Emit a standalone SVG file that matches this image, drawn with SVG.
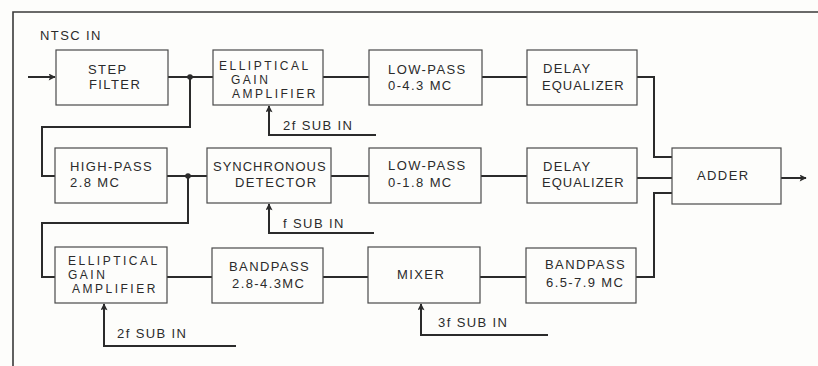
<svg xmlns="http://www.w3.org/2000/svg" width="818" height="366" viewBox="0 0 818 366">
<defs>
<marker id="arr" viewBox="0 0 10 10" refX="9" refY="5" markerWidth="9" markerHeight="7" markerUnits="userSpaceOnUse" orient="auto">
<path d="M0,0 L10,5 L0,10 L2,5 Z" fill="#2b2b2b"/>
</marker>
<style>
.box{fill:#fdfdfb;stroke:#4a4a4a;stroke-width:1.2}
.t{font-family:"Liberation Sans",Arial,sans-serif;font-size:13px;fill:#2b2b2b;letter-spacing:1.4px}
.e{font-size:12px;letter-spacing:2.5px}
.w{fill:none;stroke:#2b2b2b;stroke-width:2}
.f{fill:none;stroke:#3a3a3a;stroke-width:1.6}
</style>
</defs>
<rect x="0" y="0" width="818" height="366" fill="#fdfdfb"/>
<g id="frame">
<path class="f" d="M13,366 L13,12 L818,12"/>
</g>
<g id="connectors">
<path class="w" d="M28,77 L55,77" marker-end="url(#arr)"/>
<path class="w" d="M168,77 L213,77"/>
<circle cx="190" cy="77" r="2.8" fill="#2b2b2b"/>
<path class="w" d="M190,77 L190,127 L42,127 L42,176 L56,176"/>
<path class="w" d="M323,77 L369,77"/>
<path class="w" d="M482,77 L527,77"/>
<path class="w" d="M637,77 L654,77 L654,157 L672,157"/>
<path class="w" d="M376,135 L269,135 L269,106" marker-end="url(#arr)"/>
<path class="w" d="M167,176 L207,176"/>
<circle cx="188" cy="176" r="2.8" fill="#2b2b2b"/>
<path class="w" d="M188,176 L188,223 L42,223 L42,277 L55,277"/>
<path class="w" d="M331,176 L369,176"/>
<path class="w" d="M481,176 L527,176"/>
<path class="w" d="M637,178 L672,178"/>
<path class="w" d="M374,233 L269,233 L269,204" marker-end="url(#arr)"/>
<path class="w" d="M167,277 L212,277"/>
<path class="w" d="M323,277 L368,277"/>
<path class="w" d="M480,277 L526,277"/>
<path class="w" d="M636,277 L654,277 L654,193 L672,193"/>
<path class="w" d="M236,346 L104,346 L104,304" marker-end="url(#arr)"/>
<path class="w" d="M548,335 L421,335 L421,304" marker-end="url(#arr)"/>
<path class="w" d="M781,178 L806,178" marker-end="url(#arr)"/>
</g>
<g id="labels">
<text class="t" x="40" y="40">NTSC IN</text>
<text class="t" x="283" y="130">2f SUB IN</text>
<text class="t" x="283" y="228">f SUB IN</text>
<text class="t" x="117" y="338">2f SUB IN</text>
<text class="t" x="438" y="327">3f SUB IN</text>
</g>
<g id="step-filter">
<rect class="box" x="56" y="50" width="112" height="55"/>
<text class="t" x="88" y="74">STEP</text>
<text class="t" x="89" y="89">FILTER</text>
</g>
<g id="elliptical-1">
<rect class="box" x="213" y="50" width="110" height="55"/>
<text class="t e" x="219" y="70">ELLIPTICAL</text>
<text class="t e" x="231" y="84">GAIN</text>
<text class="t e" x="232" y="98">AMPLIFIER</text>
</g>
<g id="lowpass-1">
<rect class="box" x="369" y="50" width="113" height="55"/>
<text class="t" x="388" y="74">LOW-PASS</text>
<text class="t" x="388" y="90">0-4.3 MC</text>
</g>
<g id="delay-1">
<rect class="box" x="527" y="50" width="110" height="55"/>
<text class="t" x="543" y="73">DELAY</text>
<text class="t" x="542" y="90" style="letter-spacing:1px">EQUALIZER</text>
</g>
<g id="highpass">
<rect class="box" x="55" y="148" width="112" height="55"/>
<text class="t" x="70" y="171">HIGH-PASS</text>
<text class="t" x="70" y="187">2.8 MC</text>
</g>
<g id="sync-detector">
<rect class="box" x="207" y="148" width="124" height="55"/>
<text class="t" x="213" y="171" style="letter-spacing:1px">SYNCHRONOUS</text>
<text class="t" x="235" y="187">DETECTOR</text>
</g>
<g id="lowpass-2">
<rect class="box" x="369" y="148" width="112" height="55"/>
<text class="t" x="388" y="170">LOW-PASS</text>
<text class="t" x="388" y="187">0-1.8 MC</text>
</g>
<g id="delay-2">
<rect class="box" x="527" y="148" width="110" height="55"/>
<text class="t" x="543" y="171">DELAY</text>
<text class="t" x="542" y="187" style="letter-spacing:1px">EQUALIZER</text>
</g>
<g id="adder">
<rect class="box" x="672" y="148" width="109" height="56"/>
<text class="t" x="697" y="180">ADDER</text>
</g>
<g id="elliptical-2">
<rect class="box" x="55" y="247" width="112" height="56"/>
<text class="t e" x="68" y="265">ELLIPTICAL</text>
<text class="t e" x="68" y="279">GAIN</text>
<text class="t e" x="72" y="293">AMPLIFIER</text>
</g>
<g id="bandpass-1">
<rect class="box" x="212" y="248" width="111" height="55"/>
<text class="t" x="229" y="271">BANDPASS</text>
<text class="t" x="232" y="288">2.8-4.3MC</text>
</g>
<g id="mixer">
<rect class="box" x="368" y="247" width="112" height="56"/>
<text class="t" x="397" y="279">MIXER</text>
</g>
<g id="bandpass-2">
<rect class="box" x="526" y="248" width="110" height="55"/>
<text class="t" x="545" y="269">BANDPASS</text>
<text class="t" x="546" y="287">6.5-7.9 MC</text>
</g>
</svg>
